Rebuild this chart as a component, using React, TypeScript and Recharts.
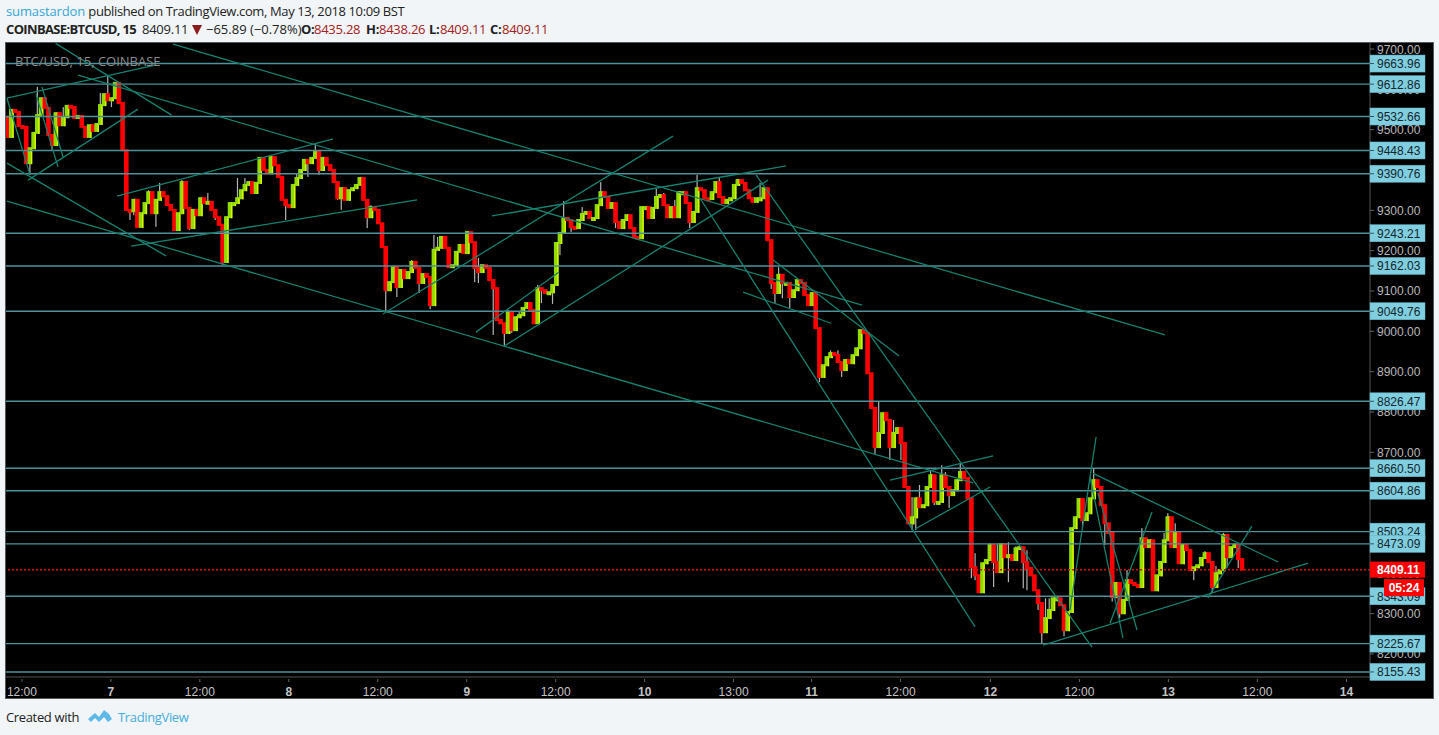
import React from 'react';
import { ComposedChart, Bar, XAxis, YAxis, ReferenceLine } from 'recharts';

// closes, one candle for every two 15 min bars
const closesA = [9482, 9549, 9544, 9509, 9507, 9417, 9454, 9492, 9536, 9578, 9554, 9487, 9462, 9541, 9511, 9531, 9559, 9556, 9529, 9534, 9507, 9482, 9511, 9497, 9514, 9561, 9588, 9573, 9578, 9616, 9566, 9449, 9301, 9298, 9326, 9259, 9293, 9318, 9345, 9293, 9326, 9345, 9335, 9313, 9301, 9251, 9293, 9370];
const closesB = [9306, 9256, 9301, 9288, 9330, 9318, 9321, 9301, 9283, 9264, 9172, 9283, 9318, 9318, 9330, 9350, 9363, 9370, 9343, 9368, 9430, 9400, 9392, 9432, 9412, 9383, 9326, 9313, 9308, 9363, 9380, 9400, 9425, 9417, 9430, 9445, 9400, 9430, 9412, 9400, 9370, 9330, 9355, 9326, 9350, 9355, 9363, 9380];
const closesC = [9326, 9283, 9308, 9301, 9268, 9209, 9102, 9122, 9159, 9110, 9152, 9132, 9147, 9172, 9157, 9120, 9142, 9135, 9065, 9202, 9207, 9234, 9207, 9159, 9164, 9197, 9214, 9194, 9246, 9221, 9157, 9147, 9164, 9157, 9127, 9107, 9028, 9020, 8996, 9048, 9003, 9035, 9040, 9058, 9070, 9053, 9020, 9107];
const closesD = [9102, 9095, 9097, 9115, 9219, 9244, 9281, 9276, 9259, 9256, 9276, 9291, 9296, 9281, 9281, 9313, 9345, 9333, 9306, 9318, 9271, 9256, 9276, 9288, 9256, 9234, 9231, 9308, 9308, 9281, 9306, 9333, 9338, 9313, 9283, 9308, 9283, 9345, 9345, 9318, 9271, 9296, 9355, 9350, 9330, 9328, 9345, 9370];
const closesE = [9333, 9318, 9326, 9330, 9363, 9375, 9368, 9350, 9330, 9321, 9330, 9330, 9355, 9226, 9120, 9095, 9140, 9120, 9120, 9085, 9102, 9127, 9120, 9090, 9065, 9095, 9008, 8887, 8916, 8936, 8946, 8941, 8924, 8904, 8929, 8921, 8941, 8958, 9003, 8996, 8896, 8810, 8713, 8748, 8797, 8780, 8713, 8748];
const closesF = [8760, 8723, 8614, 8524, 8539, 8586, 8564, 8569, 8614, 8643, 8577, 8577, 8643, 8614, 8594, 8606, 8631, 8651, 8636, 8586, 8415, 8395, 8353, 8425, 8433, 8470, 8428, 8403, 8472, 8440, 8445, 8433, 8462, 8465, 8428, 8413, 8395, 8358, 8326, 8254, 8289, 8309, 8338, 8338, 8321, 8259, 8304, 8512];
const closesG = [8539, 8584, 8532, 8549, 8586, 8631, 8614, 8569, 8524, 8500, 8341, 8376, 8301, 8334, 8383, 8376, 8371, 8366, 8487, 8465, 8482, 8358, 8395, 8428, 8482, 8539, 8465, 8500, 8425, 8470, 8458, 8408, 8415, 8420, 8438, 8450, 8428, 8366, 8400, 8408, 8495, 8440, 8465, 8470, 8435.28, 8409.11];
const firstOpen = 9531;

// candles with a visible upper wick
const highCandles = [8, 15, 25, 27, 38, 41, 47, 54, 62, 64, 78, 83, 98, 101, 109, 115, 116, 117, 124, 127, 135, 138, 143, 150, 155, 160, 175, 177, 180, 186, 192, 197, 203, 206, 208, 222, 224, 233, 235, 239, 244, 246, 249, 252, 253, 257, 261, 265, 267, 270, 272, 275, 280, 281, 293, 299, 302, 306, 312, 313, 315, 323, 326, 328, 331];
const highValues = [9606, 9556, 9591, 9633, 9350, 9368, 9375, 9343, 9380, 9380, 9392, 9464, 9313, 9226, 9177, 9239, 9234, 9236, 9249, 9182, 9053, 9050, 9115, 9323, 9308, 9370, 9353, 9343, 9326, 9388, 9380, 9378, 9368, 9182, 9159, 8953, 8953, 8847, 8825, 8780, 8589, 8619, 8656, 8668, 8651, 8673, 8450, 8475, 8472, 8477, 8467, 8457, 8338, 8338, 8661, 8378, 8408, 8512, 8500, 8549, 8524, 8455, 8418, 8500, 8475];

// candles with a visible lower wick
const lowCandles = [6, 12, 28, 33, 34, 40, 49, 56, 58, 75, 81, 84, 89, 90, 97, 102, 105, 111, 114, 126, 127, 131, 134, 136, 144, 147, 149, 152, 153, 164, 184, 206, 207, 209, 211, 219, 225, 234, 238, 241, 244, 245, 250, 254, 260, 261, 266, 270, 274, 275, 278, 279, 285, 290, 296, 298, 300, 320, 325, 329, 332];
const lowValues = [9388, 9449, 9556, 9276, 9288, 9259, 9251, 9276, 9164, 9276, 9383, 9388, 9326, 9301, 9256, 9048, 9085, 9095, 9055, 9122, 9120, 8991, 8961, 8996, 9070, 9068, 9189, 9246, 9251, 9256, 9256, 9105, 9070, 9082, 9058, 8874, 8887, 8696, 8681, 8681, 8507, 8507, 8569, 8562, 8388, 8383, 8366, 8378, 8363, 8358, 8309, 8227, 8244, 8515, 8470, 8330, 8289, 8383, 8351, 8415, 8413];

const axisPrices = [9700, 9600, 9500, 9400, 9300, 9200, 9100, 9000, 8900, 8800, 8700, 8600, 8500, 8400, 8300, 8200];
const levels = [9663.96, 9612.86, 9532.66, 9448.43, 9390.76, 9243.21, 9162.03, 9049.76, 8826.47, 8660.5, 8604.86, 8503.24, 8473.09, 8343.09, 8225.67, 8155.43];
const lastPrice = 8409.11;
const countdown = '05:24';

const timeTickBars = [8.6, 56.6, 104.6, 152.6, 200.6, 248.6, 296.6, 344.6, 392.6, 434.7, 482.7, 531.2, 579.2, 627.2, 675.2, 723.3];
const timeTickLabels = ['12:00', '7', '12:00', '8', '12:00', '9', '12:00', '10', '13:00', '11', '12:00', '12', '12:00', '13', '12:00', '14'];

// drawn trend lines: bar, price, bar, price
const trendLines = [
    [38.9, 9635, 461.9, 9065],
    [90.1, 9712, 625.4, 8991],
    [26.8, 9714, 89.4, 9536],
    [0.5, 9417, 86.3, 9187],
    [0.5, 9323, 521.8, 8624],
    [11.9, 9375, 71.2, 9551],
    [0.5, 9578, 13, 9388],
    [0.5, 9578, 80.4, 9660],
    [16.2, 9588, 28.1, 9407],
    [19.4, 9606, 30.8, 9432],
    [59.9, 9335, 176.5, 9477],
    [67.5, 9211, 221.8, 9326],
    [203.4, 9043, 359.9, 9484],
    [253.6, 8998, 298.4, 9147],
    [268.7, 8963, 411.2, 9375],
    [262.2, 9286, 420.9, 9410],
    [404.7, 9388, 586, 8217],
    [374.5, 9330, 522.9, 8267],
    [413.9, 9177, 481.9, 8939],
    [397.7, 9097, 445.2, 9020],
    [477, 8631, 532.6, 8691],
    [490.5, 8510, 531, 8614],
    [586.5, 8648, 686.4, 8428],
    [559.6, 8222, 702.6, 8425],
    [588.2, 8738, 574.1, 8309],
    [584.9, 8639, 602.7, 8239],
    [589.2, 8599, 610.3, 8259],
    [595.7, 8276, 618.4, 8552],
    [648.6, 8339, 672.3, 8517],
];

const closes = [...closesA, ...closesB, ...closesC, ...closesD, ...closesE, ...closesF, ...closesG];

const candles = closes.map((close, i) => {
    const open = i === 0 ? firstOpen : closes[i - 1];
    const hi = highCandles.indexOf(i);
    const lo = lowCandles.indexOf(i);
    const high = Math.max(open, close, hi >= 0 ? highValues[hi] : 0);
    const low = Math.min(open, close, lo >= 0 ? lowValues[lo] : 99999);
    return { bar: 1 + i * 2, open, close, high, low, range: [low, high] };
});

const SANS = '"Liberation Sans", Arial, sans-serif';
const UI = '"Open Sans", "Noto Sans", sans-serif';
const RED_TEXT = '#a52020';
const BODY_WIDTH = 4.6;

const Candle = (props: any) => {
    const { x, y, width, height, payload } = props;
    const { open, close, high, low } = payload;
    const perUnit = high > low ? height / (high - low) : 0;
    const top = y + (high - Math.max(open, close)) * perUnit;
    const bodyH = Math.max(Math.abs(open - close) * perUnit, 2);
    const up = close >= open;
    const mid = x + width / 2;
    return (
        <g>
            <rect x={mid - 0.6} y={y} width={1.2} height={height} fill="#b4b4b4" />
            <rect x={mid - BODY_WIDTH / 2} y={top - 1} width={BODY_WIDTH} height={bodyH + 2} fill={up ? '#8fdc00' : '#ff0000'} />
            {up && <rect x={mid + BODY_WIDTH / 2 - 1.4} y={top - 1} width={1.4} height={bodyH + 2} fill="#dcf500" />}
        </g>
    );
};

const PriceTick = ({ x, y, payload }: any) => {
    const value = payload.value;
    const left = x;
    if (value === lastPrice) {
        return (
            <g fontFamily={SANS} fontSize={12}>
                <rect x={left} y={y - 8} width={55} height={16} fill="#ff0000" />
                <text x={left + 7} y={y + 4.5} fill="#ffffff" fontWeight="bold">{value.toFixed(2)}</text>
                <rect x={left + 14} y={y + 9.5} width={40} height={17} fill="#ff0000" />
                <text x={left + 34} y={y + 22.5} fill="#ffffff" fontWeight="bold" textAnchor="middle">{countdown}</text>
            </g>
        );
    }
    if (levels.includes(value)) {
        // the lowest box is cut off by the time axis
        const top = y - 8.5;
        const bottom = Math.min(y + 8.5, 676);
        return (
            <g fontFamily={SANS} fontSize={12}>
                <rect x={left} y={top} width={55} height={bottom - top} fill="#7fcfe0" stroke="#68b8c9" strokeWidth={0.5} />
                <line x1={left} x2={left + 4} y1={y} y2={y} stroke="#33565e" />
                <text x={left + 7} y={Math.min(y + 4.5, 675)} fill="#15252b">{value.toFixed(2)}</text>
            </g>
        );
    }
    return (
        <g fontFamily={SANS} fontSize={12}>
            <line x1={left} x2={left + 4} y1={y} y2={y} stroke="#666666" />
            <text x={left + 7} y={y + 4.5} fill="#b8b8b8">{value.toFixed(2)}</text>
        </g>
    );
};

const TimeTick = ({ x, y, payload }: any) => {
    const label = timeTickLabels[timeTickBars.indexOf(payload.value)];
    return (
        <g fontFamily={SANS} fontSize={12}>
            <line x1={x} x2={x} y1={y} y2={y + 3} stroke="#666666" />
            <text x={x} y={y + 17} fill="#c4c4c4" textAnchor="middle" fontWeight={label.length < 3 ? 'bold' : 'normal'}>{label}</text>
        </g>
    );
};

const Quote = ({ label, value, left, valueLeft }: any) => (
    <>
        <b style={{ position: 'absolute', left, letterSpacing: -0.3 }}>{label}</b>
        <span style={{ position: 'absolute', left: valueLeft, color: RED_TEXT, letterSpacing: -0.25 }}>{value}</span>
    </>
);

const App = () => (
    <div style={{ position: 'absolute', left: 0, top: 0, width: 1439, height: 735, background: '#f1f5f8', overflow: 'hidden' }}>
        <div style={{ position: 'absolute', left: 6, top: 2, fontFamily: UI, fontSize: 13, letterSpacing: -0.13, color: '#222', whiteSpace: 'nowrap' }}>
            <span style={{ color: '#37a6d8' }}>sumastardon</span> <span style={{ letterSpacing: -0.38 }}>published on TradingView.com, May 13, 2018 10:09 BST</span>
        </div>
        <div style={{ position: 'absolute', left: 6, top: 20, fontFamily: UI, fontSize: 13, color: '#222', whiteSpace: 'nowrap' }}>
            <b style={{ letterSpacing: -0.65 }}>COINBASE:BTCUSD, 15</b>
            <span style={{ position: 'absolute', left: 136, letterSpacing: -0.25 }}>8409.11</span>
            <span style={{ position: 'absolute', left: 186, top: 5, width: 0, height: 0, borderLeft: '5px solid transparent', borderRight: '5px solid transparent', borderTop: '10px solid #8b1a1a' }} />
            <span style={{ position: 'absolute', left: 200 }}>−65.89 (−0.78%)</span>
            <Quote label="O:" value="8435.28" left={295} valueLeft={308} />
            <Quote label="H:" value="8438.26" left={360} valueLeft={373} />
            <Quote label="L:" value="8409.11" left={423} valueLeft={434} />
            <Quote label="C:" value="8409.11" left={484} valueLeft={496} />
        </div>
        <div style={{ position: 'absolute', left: 6, top: 43, width: 1427, height: 655, background: '#000', outline: '1px solid #55595c' }}>
            <ComposedChart width={1427} height={655} data={candles} margin={{ top: 0, right: 0, bottom: 0, left: 0 }}>
                <XAxis
                    dataKey="bar"
                    type="number"
                    domain={[0, 736]}
                    allowDataOverflow
                    ticks={timeTickBars}
                    interval={0}
                    height={21}
                    stroke="#555555"
                    tickLine={false}
                    tickSize={0}
                    tick={<TimeTick />}
                />
                <YAxis
                    orientation="right"
                    type="number"
                    width={63}
                    domain={[8142.9, 9714.9]}
                    allowDataOverflow
                    ticks={[...axisPrices, ...levels, lastPrice]}
                    interval={0}
                    stroke="#555555"
                    tickLine={false}
                    tickSize={0}
                    tickMargin={0}
                    tick={<PriceTick />}
                />
                <Bar dataKey="range" barSize={4} shape={<Candle />} isAnimationActive={false} />
                {levels.map((value) => (
                    <ReferenceLine key={value} y={value} stroke="#4f929b" strokeWidth={1.4} />
                ))}
                {trendLines.map((t, i) => (
                    <ReferenceLine
                        key={i}
                        segment={[{ x: t[0], y: t[1] }, { x: t[2], y: t[3] }]}
                        stroke="#17806f"
                        strokeWidth={1.3}
                        ifOverflow="visible"
                    />
                ))}
                <ReferenceLine y={lastPrice} stroke="#e00000" strokeWidth={1.5} strokeDasharray="2 2" />
            </ComposedChart>
            <div style={{ position: 'absolute', left: 9, top: 9, fontFamily: UI, fontSize: 13, color: '#8c8c8c', whiteSpace: 'nowrap' }}>BTC/USD, 15, COINBASE</div>
        </div>
        <div style={{ position: 'absolute', left: 6, top: 708, fontFamily: UI, fontSize: 13, letterSpacing: -0.35, color: '#222', whiteSpace: 'nowrap' }}>Created with</div>
        <svg style={{ position: 'absolute', left: 87, top: 708 }} width={26} height={16}>
            <path d="M1 11 L8 5 L12 9 L17 2 L22 6 L25 11 L21 14 L17 9 L12 14 L8 10 L4 14 Z" fill="#5fb9e6" />
        </svg>
        <div style={{ position: 'absolute', left: 118, top: 708, fontFamily: UI, fontSize: 13, letterSpacing: -0.35, color: '#45ade0', whiteSpace: 'nowrap' }}>TradingView</div>
    </div>
);

export default App;
